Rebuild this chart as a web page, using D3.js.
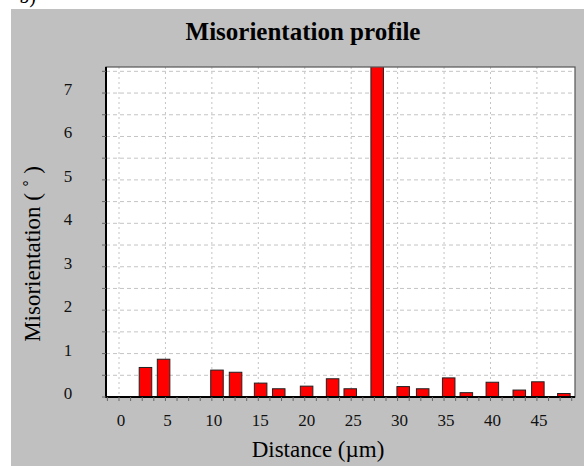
<!DOCTYPE html>
<html lang="en">
<head>
<meta charset="UTF-8">
<title>Misorientation profile</title>
<script src="https://d3js.org/d3.v7.min.js"></script>
<style>
  body { margin: 0; background: #fff; }
  svg { display: block; }
  .tick-label { font-family: "Liberation Serif", serif; font-size: 17px; fill: #111; }
</style>
</head>
<body>
<div id="chart"></div>
<script>
// bar centre positions (µm) and misorientation values (deg)
var distances = [2.85, 4.8, 10.55, 12.55, 15.25, 17.2, 20.2, 23.0, 24.9, 27.8, 30.6, 32.7, 35.5, 37.4, 40.2, 43.1, 45.1, 47.9];
var angles    = [0.68, 0.87, 0.62, 0.57, 0.32, 0.19, 0.25, 0.42, 0.19, 7.7, 0.24, 0.19, 0.44, 0.10, 0.34, 0.16, 0.35, 0.08];
var xTicks = [0, 5, 10, 15, 20, 25, 30, 35, 40, 45];
var yTicks = [0, 1, 2, 3, 4, 5, 6, 7];

var width = 584, height = 466;
var plot = { left: 106, top: 67, right: 575, bottom: 397 };

var svg = d3.select("#chart").append("svg")
    .attr("width", width)
    .attr("height", height);

// grey panel
svg.append("rect")
    .attr("x", 11).attr("y", 9)
    .attr("width", width - 11).attr("height", height - 9)
    .attr("fill", "#c0c0c0");

// panel label of the figure, mostly cut off above
svg.append("text")
    .attr("x", 36).attr("y", 3)
    .attr("text-anchor", "end")
    .style("font-family", "Liberation Serif, serif")
    .style("font-size", "20px")
    .text("b)");

svg.append("text")
    .attr("x", 303).attr("y", 40)
    .attr("text-anchor", "middle")
    .style("font-family", "Liberation Serif, serif")
    .style("font-weight", "bold")
    .style("font-size", "25px")
    .text("Misorientation profile");

var x = d3.scaleLinear().domain([-1.4, 49.1]).range([plot.left, plot.right]);
var y = d3.scaleLinear().domain([0, 7.6]).range([plot.bottom, plot.top]);

svg.append("rect")
    .attr("x", plot.left).attr("y", plot.top)
    .attr("width", plot.right - plot.left).attr("height", plot.bottom - plot.top)
    .attr("fill", "#fff");

// grid
var halfSteps = d3.range(0.5, 7.6, 0.5);
svg.selectAll(".hgrid").data(halfSteps).enter().append("line")
    .attr("x1", plot.left).attr("x2", plot.right)
    .attr("y1", function(d) { return y(d); }).attr("y2", function(d) { return y(d); })
    .attr("stroke", "#c4c4c4").attr("stroke-width", 1)
    .attr("stroke-dasharray", "4,3");

svg.selectAll(".vgrid").data(xTicks).enter().append("line")
    .attr("x1", function(d) { return x(d); }).attr("x2", function(d) { return x(d); })
    .attr("y1", plot.top).attr("y2", plot.bottom)
    .attr("stroke", "#c4c4c4").attr("stroke-width", 1)
    .attr("stroke-dasharray", "2,3");

// bars
svg.append("clipPath").attr("id", "clip").append("rect")
    .attr("x", plot.left).attr("y", plot.top)
    .attr("width", plot.right - plot.left).attr("height", plot.bottom - plot.top);

var barW = 1.35;
svg.append("g").attr("clip-path", "url(#clip)")
    .selectAll("rect").data(distances).enter().append("rect")
    .attr("x", function(d) { return x(d - barW / 2); })
    .attr("width", function() { return x(barW) - x(0); })
    .attr("y", function(d, i) { return y(angles[i]); })
    .attr("height", function(d, i) { return plot.bottom - y(angles[i]); })
    .attr("fill", "#ff0000")
    .attr("stroke", "#222").attr("stroke-width", 1);

// frame
svg.append("rect")
    .attr("x", plot.left).attr("y", plot.top)
    .attr("width", plot.right - plot.left).attr("height", plot.bottom - plot.top)
    .attr("fill", "none").attr("stroke", "#555").attr("stroke-width", 1.2);
svg.append("path")
    .attr("d", "M" + plot.left + "," + plot.top + "V" + plot.bottom + "H" + plot.right)
    .attr("fill", "none").attr("stroke", "#000").attr("stroke-width", 2);

// y ticks
svg.selectAll(".ytick").data(d3.range(0, 7.6, 0.5)).enter().append("line")
    .attr("x1", plot.left - 4).attr("x2", plot.left)
    .attr("y1", function(d) { return y(d); }).attr("y2", function(d) { return y(d); })
    .attr("stroke", "#666");
svg.selectAll(".ylab").data(yTicks).enter().append("text")
    .attr("class", "tick-label")
    .attr("x", 68).attr("y", function(d) { return y(d) + 2; })
    .attr("text-anchor", "middle")
    .text(function(d) { return d; });

// x ticks
svg.selectAll(".xtick").data(d3.range(-1.25, 49, 1.25)).enter().append("line")
    .attr("x1", function(d) { return x(d); }).attr("x2", function(d) { return x(d); })
    .attr("y1", plot.bottom).attr("y2", plot.bottom + 4)
    .attr("stroke", "#666");
svg.selectAll(".xlab").data(xTicks).enter().append("text")
    .attr("class", "tick-label")
    .attr("x", function(d) { return x(d) + 2; }).attr("y", 426)
    .attr("text-anchor", "middle")
    .text(function(d) { return d; });

svg.append("text")
    .attr("x", 318).attr("y", 457)
    .attr("text-anchor", "middle")
    .style("font-family", "Liberation Serif, serif")
    .style("font-size", "23px")
    .text("Distance (\u00b5m)");

svg.append("text")
    .attr("transform", "translate(40,254) rotate(-90)")
    .attr("text-anchor", "middle")
    .style("font-family", "Liberation Serif, serif")
    .style("font-size", "23px")
    .text("Misorientation ( \u02da )");
</script>
</body>
</html>
